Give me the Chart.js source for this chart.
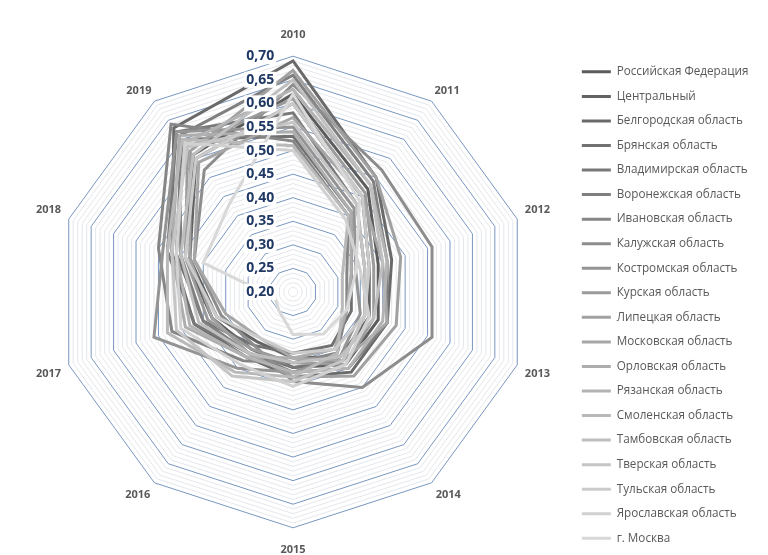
<!DOCTYPE html>
<html><head><meta charset="utf-8">
<script src="https://cdn.jsdelivr.net/npm/chart.js@4.4.1/dist/chart.umd.min.js"></script>
<style>html,body{margin:0;padding:0;background:#fff;overflow:hidden}#wrap{width:768px;height:557px}</style>
</head><body><div id="wrap"><canvas id="c" width="768" height="557"></canvas></div>
<script>
const years = ['2010','2011','2012','2013','2014','2015','2016','2017','2018','2019'];
const regions = ['Российская Федерация','Центральный','Белгородская область','Брянская область','Владимирская область','Воронежская область','Ивановская область','Калужская область','Костромская область','Курская область','Липецкая область','Московская область','Орловская область','Рязанская область','Смоленская область','Тамбовская область','Тверская область','Тульская область','Ярославская область','г. Москва'];
const tickValues = [0.20,0.25,0.30,0.35,0.40,0.45,0.50,0.55,0.60,0.65,0.70];
const tickLabels = ['0,20','0,25','0,30','0,35','0,40','0,45','0,50','0,55','0,60','0,65','0,70'];

const rf          = [0.62,0.47,0.39,0.39,0.39,0.36,0.35,0.38,0.44,0.56];
const central     = [0.60,0.45,0.37,0.37,0.37,0.34,0.33,0.37,0.43,0.55];
const belgorod    = [0.69,0.50,0.42,0.41,0.41,0.38,0.37,0.42,0.47,0.63];
const bryansk     = [0.53,0.41,0.33,0.33,0.34,0.33,0.34,0.40,0.46,0.60];
const vladimir    = [0.58,0.43,0.36,0.36,0.38,0.36,0.36,0.42,0.48,0.62];
const voronezh    = [0.66,0.49,0.41,0.41,0.40,0.37,0.36,0.40,0.45,0.61];
const ivanovo     = [0.52,0.40,0.32,0.32,0.36,0.35,0.38,0.47,0.50,0.64];
const kaluga      = [0.64,0.52,0.51,0.51,0.45,0.39,0.34,0.36,0.42,0.52];
const kostroma    = [0.55,0.42,0.34,0.35,0.37,0.37,0.40,0.51,0.49,0.62];
const kursk       = [0.61,0.46,0.38,0.38,0.39,0.35,0.35,0.39,0.44,0.58];
const lipetsk     = [0.67,0.50,0.44,0.43,0.42,0.38,0.36,0.38,0.43,0.57];
const moscowObl   = [0.57,0.45,0.40,0.41,0.38,0.34,0.32,0.35,0.42,0.54];
const orel        = [0.54,0.41,0.33,0.32,0.35,0.34,0.37,0.44,0.47,0.61];
const ryazan      = [0.63,0.48,0.41,0.40,0.40,0.37,0.37,0.43,0.46,0.59];
const smolensk    = [0.51,0.40,0.31,0.31,0.36,0.38,0.41,0.48,0.48,0.60];
const tambov      = [0.65,0.48,0.40,0.38,0.37,0.35,0.36,0.41,0.45,0.56];
const tver        = [0.56,0.43,0.36,0.36,0.38,0.39,0.42,0.46,0.47,0.58];
const tula        = [0.60,0.45,0.37,0.36,0.35,0.33,0.32,0.37,0.44,0.55];
const yaroslavl   = [0.50,0.39,0.35,0.37,0.39,0.40,0.39,0.45,0.46,0.59];
const moscowCity  = [0.62,0.44,0.34,0.32,0.31,0.29,0.25,0.24,0.40,0.43];

const seriesValues = [rf,central,belgorod,bryansk,vladimir,voronezh,ivanovo,kaluga,kostroma,kursk,lipetsk,moscowObl,orel,ryazan,smolensk,tambov,tver,tula,yaroslavl,moscowCity];
const seriesColors = ['#5c5c5c','#636363','#6a6a6a','#717171','#787878','#7f7f7f','#868686','#8d8d8d','#949494','#9b9b9b','#a1a1a1','#a7a7a7','#adadad','#b3b3b3','#b9b9b9','#bfbfbf','#c5c5c5','#cbcbcb','#d1d1d1','#d8d8d8'];

// layout helpers (measure fonts only)
const mctx = document.createElement('canvas').getContext('2d');
mctx.font = '11px "Open Sans"';
let F = 11 * 132 / mctx.measureText(regions[0]).width;
F = Math.max(10, Math.min(12.5, F));
mctx.font = F + 'px "Open Sans"';
const T = Math.max(...regions.map(r => mctx.measureText(r).width));
const legPad = 24.55 - F;
const boxW = 29;
const padR = Math.max(0, 768 - 569 - legPad - boxW - F / 2 - T - 10);

const TICK_SIZE = 14;
const TICK_FONT = 'bold ' + TICK_SIZE + 'px "Open Sans"';
mctx.font = TICK_FONT;
const TICK_PAD = ' '.repeat(Math.max(1, Math.round(64 / mctx.measureText(' ').width)));
const isMajor = (v) => Math.round(v * 100) % 5 === 0;

// white boxes behind the value labels (drawn after the series, below the labels)
const tickBackdrop = {
  id: 'tickBackdrop',
  afterDatasetsDraw(chart) {
    const s = chart.scales.r;
    const ctx = chart.ctx;
    ctx.save();
    ctx.font = TICK_FONT;
    ctx.fillStyle = '#ffffff';
    tickValues.forEach((v, i) => {
      const full = ctx.measureText(tickLabels[i] + TICK_PAD).width;
      const vis = ctx.measureText(tickLabels[i]).width;
      const xl = s.xCenter - full / 2;
      const y = s.yCenter - s.getDistanceFromCenterForValue(v);
      ctx.fillRect(xl - 2, y - 8, vis + 4, 16);
    });
    ctx.restore();
  }
};

const datasets = regions.map((name, i) => ({
  label: name,
  data: seriesValues[i],
  borderColor: seriesColors[i],
  backgroundColor: seriesColors[i],
  borderWidth: 3,
  pointRadius: 0,
  pointHoverRadius: 0,
  fill: false,
  tension: 0,
  order: regions.length - i
}));

new Chart(document.getElementById('c'), {
  type: 'radar',
  data: { labels: years, datasets },
  plugins: [tickBackdrop],
  options: {
    responsive: false,
    animation: false,
    devicePixelRatio: 1,
    layout: { padding: { left: 19, right: padR, top: 28, bottom: 0 } },
    plugins: {
      tooltip: { enabled: false },
      legend: {
        position: 'right',
        align: 'end',
        labels: {
          usePointStyle: true,
          pointStyle: 'line',
          pointStyleWidth: boxW,
          padding: legPad,
          color: '#595959',
          font: { family: '"Open Sans"', size: F },
          sort: (a, b) => a.datasetIndex - b.datasetIndex
        }
      }
    },
    scales: {
      r: {
        min: 0.2,
        max: 0.7,
        afterBuildTicks: (scale) => { scale.ticks.unshift({ value: scale.min }); },
        ticks: {
          stepSize: 0.01,
          autoSkip: false,
          z: 1,
          showLabelBackdrop: false,
          backdropPadding: { top: -TICK_SIZE / 2, bottom: -TICK_SIZE / 2, left: 0, right: 0 },
          color: '#1F3864',
          font: { family: '"Open Sans"', size: TICK_SIZE, weight: 'bold' },
          callback: (value) => {
            const k = (value - 0.2) / 0.05;
            const i = Math.round(k);
            if (Math.abs(k - i) > 1e-6) return '';
            return tickLabels[i] + TICK_PAD;
          }
        },
        grid: {
          color: (ctx) => isMajor(ctx.tick.value) ? '#7896c0' : '#e4e7eb',
          lineWidth: 1
        },
        angleLines: { display: false },
        pointLabels: {
          color: '#595959',
          padding: (ctx) => [15, 5, 8, 8, 7, 15, 7, 8, 8, 5][ctx.index],
          font: { family: '"Open Sans"', size: 11, weight: 'bold' }
        }
      }
    }
  }
});
</script>
</body></html>
